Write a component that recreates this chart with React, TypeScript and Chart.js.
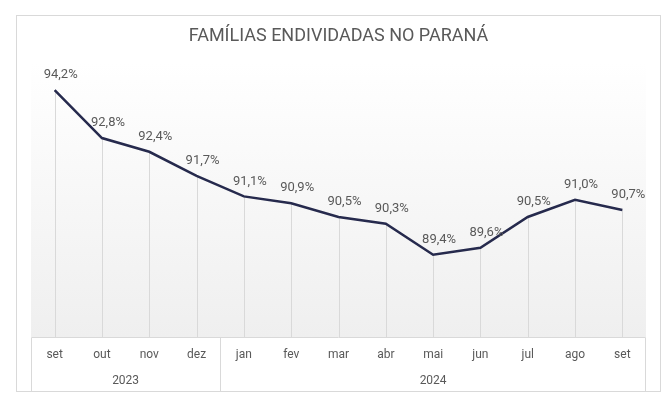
import React, { useEffect, useRef } from "react";
import { Chart, registerables } from "chart.js";

Chart.register(...registerables);

const months = ["set", "out", "nov", "dez", "jan", "fev", "mar", "abr", "mai", "jun", "jul", "ago", "set"];
const values = [94.2, 92.8, 92.4, 91.7, 91.1, 90.9, 90.5, 90.3, 89.4, 89.6, 90.5, 91.0, 90.7];
const yearLabels = ["2023", "2024"];
const yearStartIndex = [0, 4];
const yearEndIndex = [3, 12];
const chartTitle = "FAMÍLIAS ENDIVIDADAS NO PARANÁ";

const GRID = "#d9d9d9";
const TEXT = "#595959";
const FONT = "Roboto, 'Liberation Sans', sans-serif";

const decorPlugin = {
  id: "decor",
  beforeDraw(chart: any) {
    const { ctx, chartArea, scales } = chart;
    const x = scales.x;
    ctx.save();
    ctx.strokeStyle = GRID;
    ctx.lineWidth = 1;
    ctx.strokeRect(16.5, 15.5, 644, 376);
    const g = ctx.createLinearGradient(0, chartArea.top, 0, chartArea.bottom);
    g.addColorStop(0, "#ffffff");
    g.addColorStop(1, "#efefef");
    ctx.fillStyle = g;
    ctx.fillRect(chartArea.left, chartArea.top, chartArea.right - chartArea.left, chartArea.bottom - chartArea.top);
    const bottom = 391.5;
    ctx.beginPath();
    const top = Math.round(chartArea.bottom) + 0.5;
    const l = Math.round(chartArea.left) + 0.5;
    const r = Math.round(chartArea.right) - 0.5;
    ctx.moveTo(l, top); ctx.lineTo(r, top);
    ctx.moveTo(l, top); ctx.lineTo(l, bottom);
    ctx.moveTo(r, top); ctx.lineTo(r, bottom);
    for (let k = 1; k < yearStartIndex.length; k++) {
      const xd = Math.round((x.getPixelForValue(yearStartIndex[k]) + x.getPixelForValue(yearStartIndex[k] - 1)) / 2) + 0.5;
      ctx.moveTo(xd, top); ctx.lineTo(xd, bottom);
    }
    ctx.stroke();
    const meta = chart.getDatasetMeta(0);
    ctx.beginPath();
    meta.data.forEach((pt: any) => {
      const px = Math.round(pt.x) + 0.5;
      ctx.moveTo(px, pt.y);
      ctx.lineTo(px, chartArea.bottom);
    });
    ctx.stroke();
    ctx.fillStyle = TEXT;
    ctx.font = "12px " + FONT;
    ctx.textAlign = "center";
    ctx.textBaseline = "middle";
    yearLabels.forEach((lab, k) => {
      const cx = (x.getPixelForValue(yearStartIndex[k]) + x.getPixelForValue(yearEndIndex[k])) / 2;
      ctx.fillText(lab, cx, 381);
    });
    ctx.restore();
  },
  afterDatasetsDraw(chart: any) {
    const { ctx } = chart;
    const meta = chart.getDatasetMeta(0);
    ctx.save();
    ctx.fillStyle = TEXT;
    ctx.font = "13px " + FONT;
    ctx.textAlign = "center";
    ctx.textBaseline = "middle";
    meta.data.forEach((pt: any, i: number) => {
      const txt = values[i].toFixed(1).replace(".", ",") + "%";
      ctx.fillText(txt, pt.x + 6, pt.y - 15);
    });
    ctx.restore();
  },
};

export default function App() {
  const ref = useRef<HTMLCanvasElement>(null);
  useEffect(() => {
    document.body.style.margin = "0";
    const chart = new Chart(ref.current!, {
      type: "line",
      data: {
        labels: months,
        datasets: [
          {
            data: values,
            borderColor: "#262a4d",
            borderWidth: 2.5,
            pointRadius: 0,
            tension: 0,
          },
        ],
      },
      options: {
        animation: false,
        responsive: false,
        devicePixelRatio: 1,
        layout: { padding: { left: 31, right: 25, top: 0, bottom: 14 } },
        plugins: {
          legend: { display: false },
          tooltip: { enabled: false },
          title: {
            display: true,
            text: chartTitle,
            color: TEXT,
            font: { family: FONT, size: 18, weight: "normal" },
            padding: { top: 26, bottom: 15 },
          },
        },
        scales: {
          x: {
            offset: true,
            grid: { display: false, drawTicks: false },
            border: { display: false },
            ticks: { color: TEXT, font: { family: FONT, size: 12 }, padding: 11, maxRotation: 0, autoSkip: false },
            afterFit: (s: any) => { s.height = 54; },
          },
          y: { display: false, min: 87, max: 95 },
        },
      },
      plugins: [decorPlugin],
    });
    return () => chart.destroy();
  }, []);
  return <canvas ref={ref} width={671} height={405} style={{ display: "block" }} />;
}
